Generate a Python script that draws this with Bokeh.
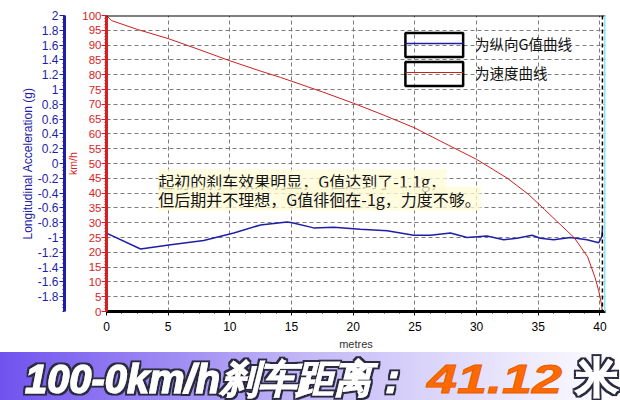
from bokeh.plotting import figure
from bokeh.models import (Range1d, LinearAxis, FixedTicker, SingleIntervalTicker,
                          CustomJSTickFormatter, Span, Label, Legend, LegendItem,
                          BoxAnnotation, ColumnDataSource, Div)
from bokeh.layouts import column
from bokeh.embed import file_html
from bokeh.resources import INLINE

# ---------------- data ----------------
dist_speed = [0, 0.4, 2.5, 5, 7.5, 10, 12.5, 14.1, 15, 17.5, 20, 22.5, 25, 27.1,
              30, 32.5, 34.2, 35.5, 36.5, 37.9, 39, 39.6, 39.9, 40.1, 40.2]
speed_kmh = [100, 98.3, 95.3, 92.2, 88.5, 84.7, 81.2, 79.1, 77.8, 74.2, 70.4, 66.3,
             62.0, 57.5, 51.4, 45.0, 39.6, 34.5, 30.5, 25.0, 18.5, 11.5, 7.0, 3.0, 0]

dist_g = [0, 2.76, 5.05, 7.88, 10.32, 12.48, 14.64, 15.05, 16.8, 18.42, 20.58, 22.75,
          24.9, 26.26, 27.88, 29.23, 30.85, 32.2, 33.28, 34.5, 35.17, 36.25, 37.6,
          38.95, 39.9, 40.09, 40.17, 40.2]
g_long = [-0.94, -1.155, -1.10, -1.04, -0.94, -0.83, -0.79, -0.80, -0.87, -0.86, -0.89,
          -0.91, -0.97, -0.97, -0.94, -1.00, -0.98, -1.03, -1.01, -0.97, -1.01, -1.03,
          -1.00, -1.03, -1.07, -1.01, -0.98, -0.89]

speed_ticks = [0, 5, 10, 15, 20, 25, 30, 35, 40, 45, 50, 55, 60, 65, 70, 75, 80, 85, 90, 95, 100]
g_ticks = [-1.8, -1.6, -1.4, -1.2, -1.0, -0.8, -0.6, -0.4, -0.2, 0.0,
           0.2, 0.4, 0.6, 0.8, 1.0, 1.2, 1.4, 1.6, 1.8, 2.0]

g_axis_title = "Longitudinal Acceleration (g)"
legend_labels = ["为纵向G值曲线", "为速度曲线"]
note_lines = ["起初的刹车效果明显，G值达到了-1.1g，", "但后期并不理想，G值徘徊在-1g，力度不够。"]
banner_parts = ["100-0km/h", "刹车距离：", "41.12", "米"]

RED = "#d81e1e"
BLUE = "#1e1ea8"
CJK = "Noto Sans CJK SC"
LAT = "Liberation Sans"

# ---------------- main chart ----------------
p = figure(width=620, height=352, x_range=Range1d(0, 40.45), y_range=Range1d(0, 100),
           toolbar_location=None, output_backend="svg",
           min_border_left=106, min_border_right=15, min_border_top=15, min_border_bottom=39)
p.extra_y_ranges = {"g": Range1d(-2, 2)}
p.outline_line_color = None
p.background_fill_color = "white"
p.border_fill_color = "white"

src_v = ColumnDataSource(dict(x=dist_speed, y=speed_kmh))
src_g = ColumnDataSource(dict(x=dist_g, y=g_long))

for g in (p.xgrid, p.ygrid):
    g.grid_line_color = "#7c7c7c"
    g.grid_line_dash = "4 3"
    g.grid_line_width = 1

# x axis
xa = p.xaxis[0]
xa.ticker = SingleIntervalTicker(interval=5, num_minor_ticks=4)
xa.axis_line_color = "black"
xa.axis_line_width = 3
xa.major_tick_line_color = "black"
xa.major_tick_out = 4
xa.major_tick_in = 0
xa.minor_tick_line_color = "black"
xa.minor_tick_out = 2
xa.minor_tick_in = 0
xa.major_label_text_font = LAT
xa.major_label_text_font_size = "12px"
xa.major_label_text_color = "black"
xa.major_label_standoff = 6
xa.axis_label = "metres"
xa.axis_label_text_font = LAT
xa.axis_label_text_font_size = "11px"
xa.axis_label_text_font_style = "normal"
xa.axis_label_text_color = "#333333"
xa.axis_label_standoff = 4

# red speed axis (primary, next to the frame)
ra = p.yaxis[0]
ra.ticker = FixedTicker(ticks=speed_ticks, minor_ticks=list(range(0, 101)))
ra.axis_line_color = RED
ra.axis_line_width = 3
ra.major_tick_line_color = RED
ra.major_tick_out = 5
ra.major_tick_in = 0
ra.minor_tick_line_color = RED
ra.minor_tick_out = 2
ra.minor_tick_in = 0
ra.major_label_text_font = LAT
ra.major_label_text_font_size = "11.5px"
ra.major_label_text_color = RED
ra.major_label_standoff = 0
ra.axis_label = "km/h"
ra.axis_label_text_font = LAT
ra.axis_label_text_font_size = "10.5px"
ra.axis_label_text_font_style = "normal"
ra.axis_label_text_color = RED
ra.axis_label_standoff = 0

# blue G axis (outer)
ba = LinearAxis(y_range_name="g",
                ticker=FixedTicker(ticks=g_ticks,
                                   minor_ticks=[round(-2 + 0.05 * i, 2) for i in range(81)]),
                formatter=CustomJSTickFormatter(code="return (Math.round(tick*10)/10).toString();"))
ba.axis_line_color = BLUE
ba.axis_line_width = 3
ba.major_tick_line_color = BLUE
ba.major_tick_out = 5
ba.major_tick_in = 0
ba.minor_tick_line_color = BLUE
ba.minor_tick_out = 2
ba.minor_tick_in = 0
ba.major_label_text_font = LAT
ba.major_label_text_font_size = "12px"
ba.major_label_text_color = BLUE
ba.major_label_standoff = 1
ba.axis_label = g_axis_title
ba.axis_label_text_font = LAT
ba.axis_label_text_font_size = "12px"
ba.axis_label_text_font_style = "normal"
ba.axis_label_text_color = BLUE
ba.axis_label_standoff = 0
p.add_layout(ba, "left")

# frame lines
p.add_layout(Span(location=100, dimension="width", line_color="black", line_width=2))
p.add_layout(Span(location=40.2, dimension="height", line_color="black",
                  line_dash="4 3", line_width=1.5))
p.add_layout(Span(location=40.45, dimension="height", line_color="#8fe3f2", line_width=3))

# data lines
g_line = p.line("x", "y", source=src_g, y_range_name="g", line_color=BLUE, line_width=1.5)
v_line = p.line("x", "y", source=src_v, line_color="#cc1f1f", line_width=1)

# legend boxes
for top, bot in [(94.06, 86.0), (84.3, 76.2)]:
    p.add_layout(BoxAnnotation(left=24.23, right=28.91, top=top, bottom=bot,
                               fill_alpha=0, line_color="black", line_alpha=1, line_width=2.5))

legend = Legend(items=[LegendItem(label=legend_labels[0], renderers=[g_line]),
                       LegendItem(label=legend_labels[1], renderers=[v_line])],
                location=(299, 227), orientation="vertical",
                glyph_width=58, glyph_height=24, label_height=24, spacing=5,
                padding=0, margin=0, label_standoff=12,
                label_text_font=CJK, label_text_font_size="14.5px",
                label_text_color="#111111",
                background_fill_alpha=0, border_line_color=None)
p.add_layout(legend)

# annotation text
for txt, yy in zip(note_lines, [44.0, 38.1]):
    p.add_layout(Label(x=4.2, y=yy, text=txt, text_font=CJK, text_font_size="16px",
                       text_color="#141414", text_baseline="middle",
                       background_fill_color="#fffbd6", background_fill_alpha=0.75))

# ---------------- banner ----------------
white_txt = 'fill="#ffffff" stroke="#ffffff" stroke-width="1.2" filter="url(#olw)"'
svg = (
    '<svg xmlns="http://www.w3.org/2000/svg" width="620" height="48" style="display:block">'
    '<defs><linearGradient id="bnr" x1="0" y1="0" x2="1" y2="0">'
    '<stop offset="0" stop-color="#7052ee"/><stop offset="0.5" stop-color="#c4b9f7"/>'
    '<stop offset="1" stop-color="#ffffff"/></linearGradient>'
    '<filter id="olw" x="-5%" y="-25%" width="110%" height="150%">'
    '<feMorphology in="SourceAlpha" operator="dilate" radius="1.6" result="d"/>'
    '<feFlood flood-color="#2a2a42" result="c"/>'
    '<feComposite in="c" in2="d" operator="in" result="o"/>'
    '<feMerge><feMergeNode in="o"/><feMergeNode in="SourceGraphic"/></feMerge>'
    '</filter></defs>'
    '<rect x="0" y="0" width="620" height="48" fill="url(#bnr) #b0a0f4"/>'
    f'<text x="25" y="41" font-family="Liberation Sans" font-weight="bold" font-style="italic" '
    f'font-size="40" {white_txt} textLength="195" lengthAdjust="spacingAndGlyphs">'
    f'{banner_parts[0]}</text>'
    f'<text x="221" y="40" font-family="Noto Sans CJK SC" font-weight="bold" font-style="italic" '
    f'font-size="38" {white_txt} textLength="188" lengthAdjust="spacingAndGlyphs">'
    f'{banner_parts[1]}</text>'
    f'<text x="427" y="41" font-family="DejaVu Sans" font-weight="bold" font-style="italic" '
    f'font-size="40" fill="#ff6a00" stroke="#e65c00" stroke-width="0.8" '
    f'textLength="135" lengthAdjust="spacingAndGlyphs">{banner_parts[2]}</text>'
    f'<text x="576" y="40" font-family="Noto Sans CJK SC" font-weight="bold" '
    f'font-size="42" {white_txt}>{banner_parts[3]}</text>'
    '</svg>'
)
banner = Div(text=svg, width=620, height=48, margin=0)

layout = column(p, banner, spacing=0)
open("out.html", "w").write(file_html(layout, INLINE))
